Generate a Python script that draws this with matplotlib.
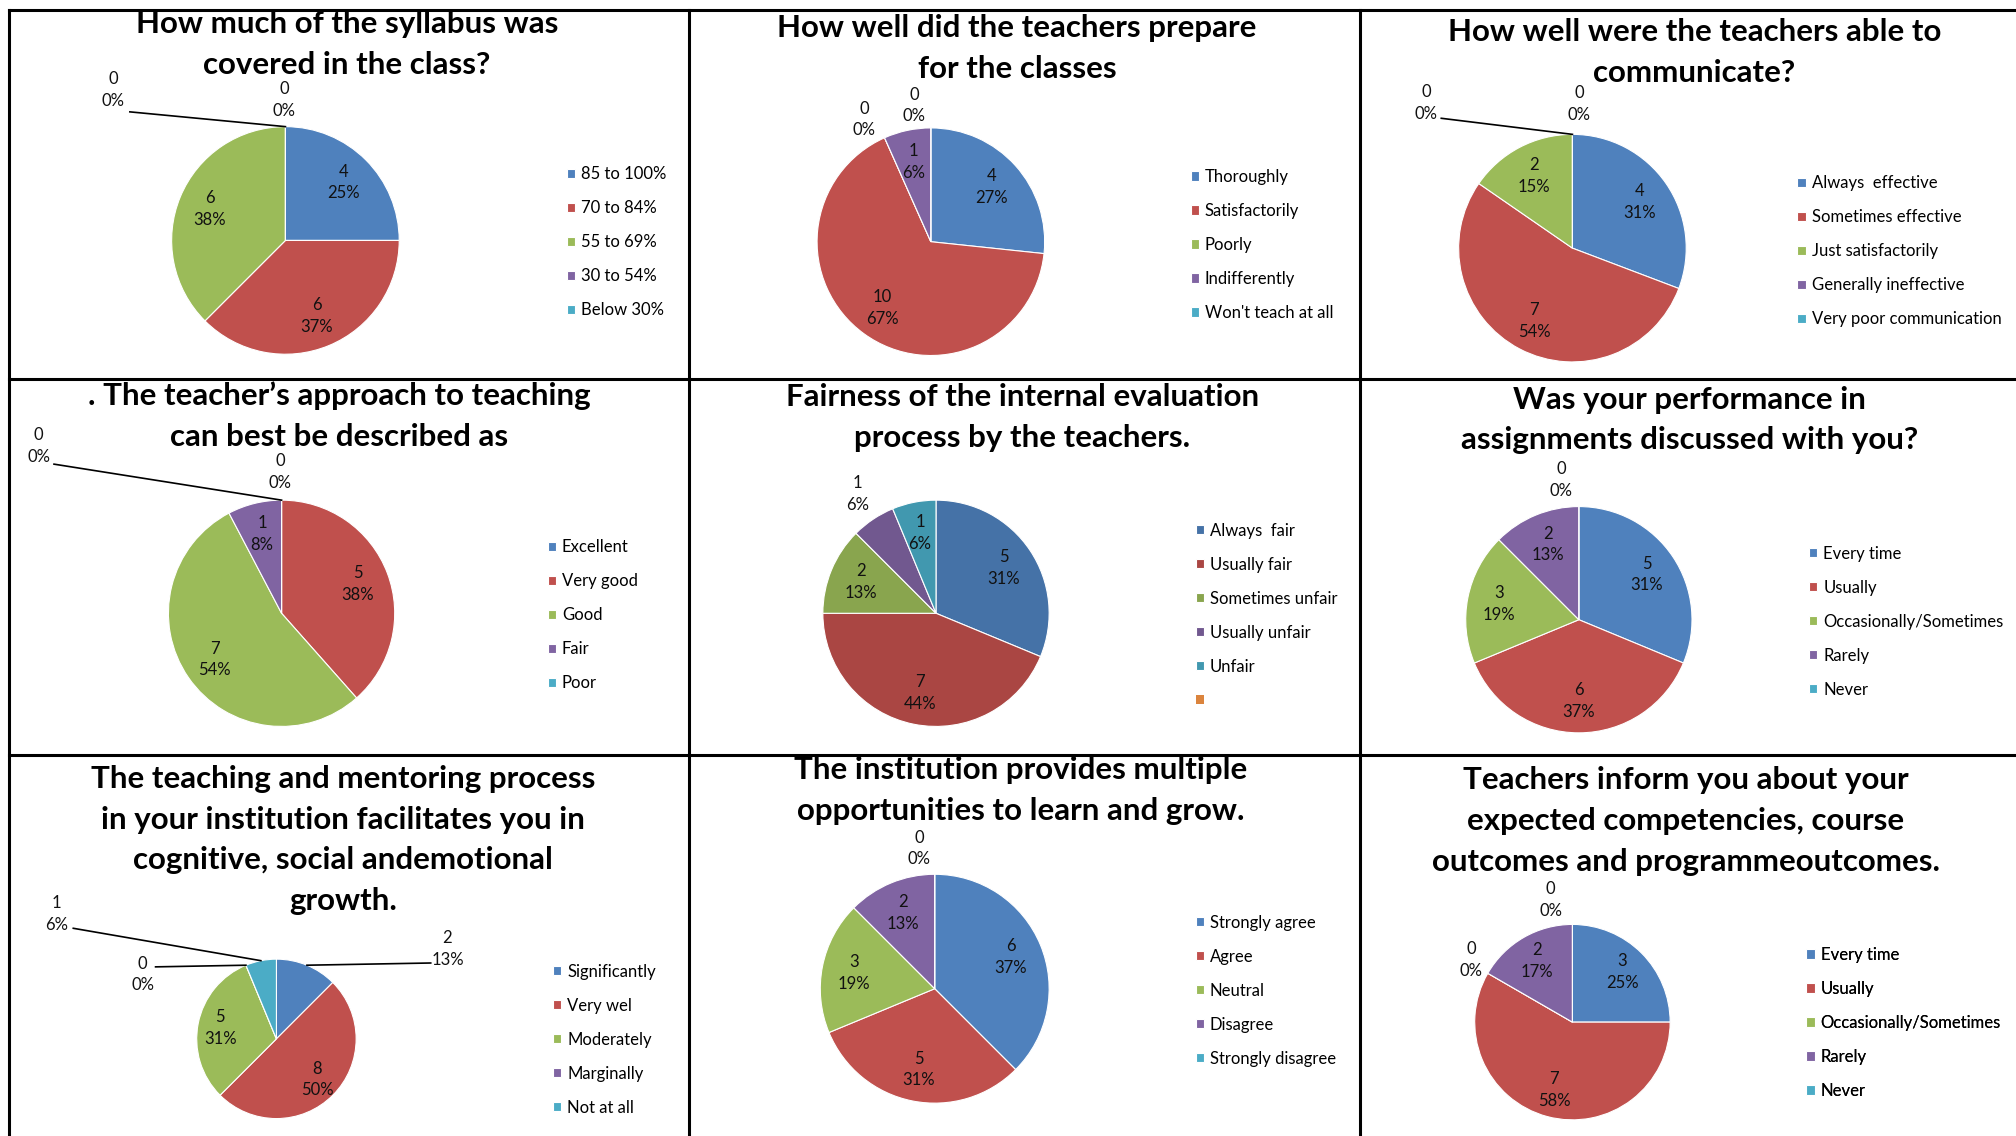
import numpy as np
import matplotlib.pyplot as plt
from matplotlib.patches import Patch

plt.rcParams['font.family'] = ['Lato', 'DejaVu Sans']

# ---- values ----
syllabus_title = ["How much of the syllabus was", "covered in the class?"]
syllabus_cats = ["85 to 100%", "70 to 84%", "55 to 69%", "30 to 54%", "Below 30%"]
syllabus_counts = [4, 6, 6, 0, 0]
syllabus_pcts = [25, 37, 38, 0, 0]

prepare_title = ["How well did the teachers prepare", "for the classes"]
prepare_cats = ["Thoroughly", "Satisfactorily", "Poorly", "Indifferently", "Won't teach at all"]
prepare_counts = [4, 10, 0, 1, 0]
prepare_pcts = [27, 67, 0, 6, 0]

communicate_title = ["How well were the teachers able to", "communicate?"]
communicate_cats = ["Always  effective", "Sometimes effective", "Just satisfactorily",
                    "Generally ineffective", "Very poor communication"]
communicate_counts = [4, 7, 2, 0, 0]
communicate_pcts = [31, 54, 15, 0, 0]

approach_title = [". The teacher\u2019s approach to teaching", "can best be described as"]
approach_cats = ["Excellent", "Very good", "Good", "Fair", "Poor"]
approach_counts = [0, 5, 7, 1, 0]
approach_pcts = [0, 38, 54, 8, 0]

fairness_title = ["Fairness of the internal evaluation", "process by the teachers."]
fairness_cats = ["Always  fair", "Usually fair", "Sometimes unfair", "Usually unfair", "Unfair"]
fairness_counts = [5, 7, 2, 1, 1]
fairness_pcts = [31, 44, 13, 6, 6]

performance_title = ["Was your performance in", "assignments discussed with you?"]
performance_cats = ["Every time", "Usually", "Occasionally/Sometimes", "Rarely", "Never"]
performance_counts = [5, 6, 3, 2, 0]
performance_pcts = [31, 37, 19, 13, 0]

mentoring_title = ["The teaching and mentoring process", "in your institution facilitates you in",
                   "cognitive, social andemotional", "growth."]
mentoring_cats = ["Significantly", "Very wel", "Moderately", "Marginally", "Not at all"]
mentoring_counts = [2, 8, 5, 0, 1]
mentoring_pcts = [13, 50, 31, 0, 6]

grow_title = ["The institution provides multiple", "opportunities to learn and grow."]
grow_cats = ["Strongly agree", "Agree", "Neutral", "Disagree", "Strongly disagree"]
grow_counts = [6, 5, 3, 2, 0]
grow_pcts = [37, 31, 19, 13, 0]

outcomes_title = ["Teachers inform you about your", "expected competencies, course",
                  "outcomes and programmeoutcomes."]
outcomes_cats = ["Every time", "Usually", "Occasionally/Sometimes", "Rarely", "Never"]
outcomes_counts = [3, 7, 0, 2, 0]
outcomes_pcts = [25, 58, 0, 17, 0]

# Excel 2007 palettes
office = ['#4F81BD', '#C0504D', '#9BBB59', '#8064A2', '#4BACC6']
office_dark = ['#4572A7', '#AA4643', '#89A54E', '#71588F', '#4198AF']
extra_orange = '#DB843D'

# layout in a 1568-wide canvas, y measured downward
W = 1568.0
H = W * 1136 / 2016
LABEL_FS = 12

panels = [
    dict(data=(syllabus_title, syllabus_cats, syllabus_counts, syllabus_pcts),
         title=(270, 19), center=(222, 187), r=88.5, legend=(441, 134), colors=office,
         outside={3: (88, 70, (101, 87)), 4: (221, 78, None)}),
    dict(data=(prepare_title, prepare_cats, prepare_counts, prepare_pcts),
         title=(791, 22), center=(724, 188), r=88.5, legend=(926, 136), colors=office,
         outside={2: (672, 93, None), 4: (711, 82, None)}),
    dict(data=(communicate_title, communicate_cats, communicate_counts, communicate_pcts),
         title=(1318, 25), center=(1223, 193), r=88.5, legend=(1398, 141), colors=office,
         outside={3: (1109, 80, (1121, 92)), 4: (1228, 81, None)}),
    dict(data=(approach_title, approach_cats, approach_counts, approach_pcts),
         title=(264, 308), center=(219, 477), r=88, legend=(426, 424), colors=office,
         outside={0: (218, 367, None), 4: (30, 347, (42, 361))}),
    dict(data=(fairness_title, fairness_cats, fairness_counts, fairness_pcts),
         title=(795, 309), center=(728, 477), r=88, legend=(930, 411), colors=office_dark,
         outside={3: (667, 384, None)}, extra=extra_orange),
    dict(data=(performance_title, performance_cats, performance_counts, performance_pcts),
         title=(1314, 311), center=(1228, 482), r=88, legend=(1407, 429), colors=office,
         outside={4: (1214, 373, None)}),
    dict(data=(mentoring_title, mentoring_cats, mentoring_counts, mentoring_pcts),
         title=(267, 606), center=(215, 808), r=62, legend=(430, 754), colors=office,
         outside={0: (348, 738, (335, 749)), 3: (111, 758, (121, 752)), 4: (44, 711, (57, 722))}),
    dict(data=(grow_title, grow_cats, grow_counts, grow_pcts),
         title=(794, 599), center=(727, 769), r=89, legend=(930, 716), colors=office,
         outside={4: (715, 660, None)}),
    dict(data=(outcomes_title, outcomes_cats, outcomes_counts, outcomes_pcts),
         title=(1311, 607), center=(1223, 795), r=76, legend=(1405, 741), colors=office,
         outside={2: (1144, 747, None), 4: (1206, 700, None)}),
]

fig = plt.figure(figsize=(20.16, 11.36), dpi=100)
ax = fig.add_axes([0, 0, 1, 1])


def two_line_label(x, y, n, p):
    ax.text(x, H - (y - 8.5), str(n), ha='center', va='center', fontsize=LABEL_FS, color='#111111')
    ax.text(x, H - (y + 8.5), f"{p}%", ha='center', va='center', fontsize=LABEL_FS, color='#111111')


for spec in panels:
    title, cats, counts, pcts = spec["data"]
    cx, cy = spec["center"]
    r = spec["r"]
    wedges, _ = ax.pie(counts, colors=spec["colors"], startangle=90, counterclock=False,
                       center=(cx, H - cy), radius=r, frame=True,
                       wedgeprops=dict(edgecolor='white', linewidth=0.8))

    for i, w in enumerate(wedges):
        mid = np.deg2rad((w.theta1 + w.theta2) / 2)
        if i in spec["outside"]:
            lx, ly, lead = spec["outside"][i]
            two_line_label(lx, ly, counts[i], pcts[i])
            if lead is not None:
                ex, ey = cx + r * np.cos(mid), H - cy + r * np.sin(mid)
                ax.plot([lead[0], ex], [H - lead[1], ey], color='black', lw=1.2)
        elif counts[i] > 0:
            lx = cx + 0.72 * r * np.cos(mid)
            ly = cy - 0.72 * r * np.sin(mid)
            two_line_label(lx, ly, counts[i], pcts[i])

    tx, ty = spec["title"]
    for k, line in enumerate(title):
        ax.text(tx, H - (ty + 31.6 * k), line, ha='center', va='center',
                fontsize=22.5, fontweight='bold', color='black')

    handles = list(wedges)
    labels = list(cats)
    if "extra" in spec:
        handles.append(Patch(facecolor=spec["extra"]))
        labels.append("")
    lgx, lgy = spec["legend"]
    leg = ax.legend(handles, labels, loc='upper left', bbox_to_anchor=(lgx, H - (lgy - 4.6)),
                    bbox_transform=ax.transData, frameon=False, fontsize=LABEL_FS,
                    handlelength=0.5, handleheight=0.5, handletextpad=0.35,
                    labelspacing=1.08, borderpad=0, borderaxespad=0)
    ax.add_artist(leg)

# panel grid lines
for x in [7, 536, 1058]:
    ax.plot([x, x], [0, H - 8], color='black', lw=2.2)
for y in [8, 295, 587]:
    ax.plot([7, W], [H - y, H - y], color='black', lw=2.2)

ax.set_xlim(0, W)
ax.set_ylim(0, H)
ax.axis('off')

fig.savefig('out.png', dpi=100)
